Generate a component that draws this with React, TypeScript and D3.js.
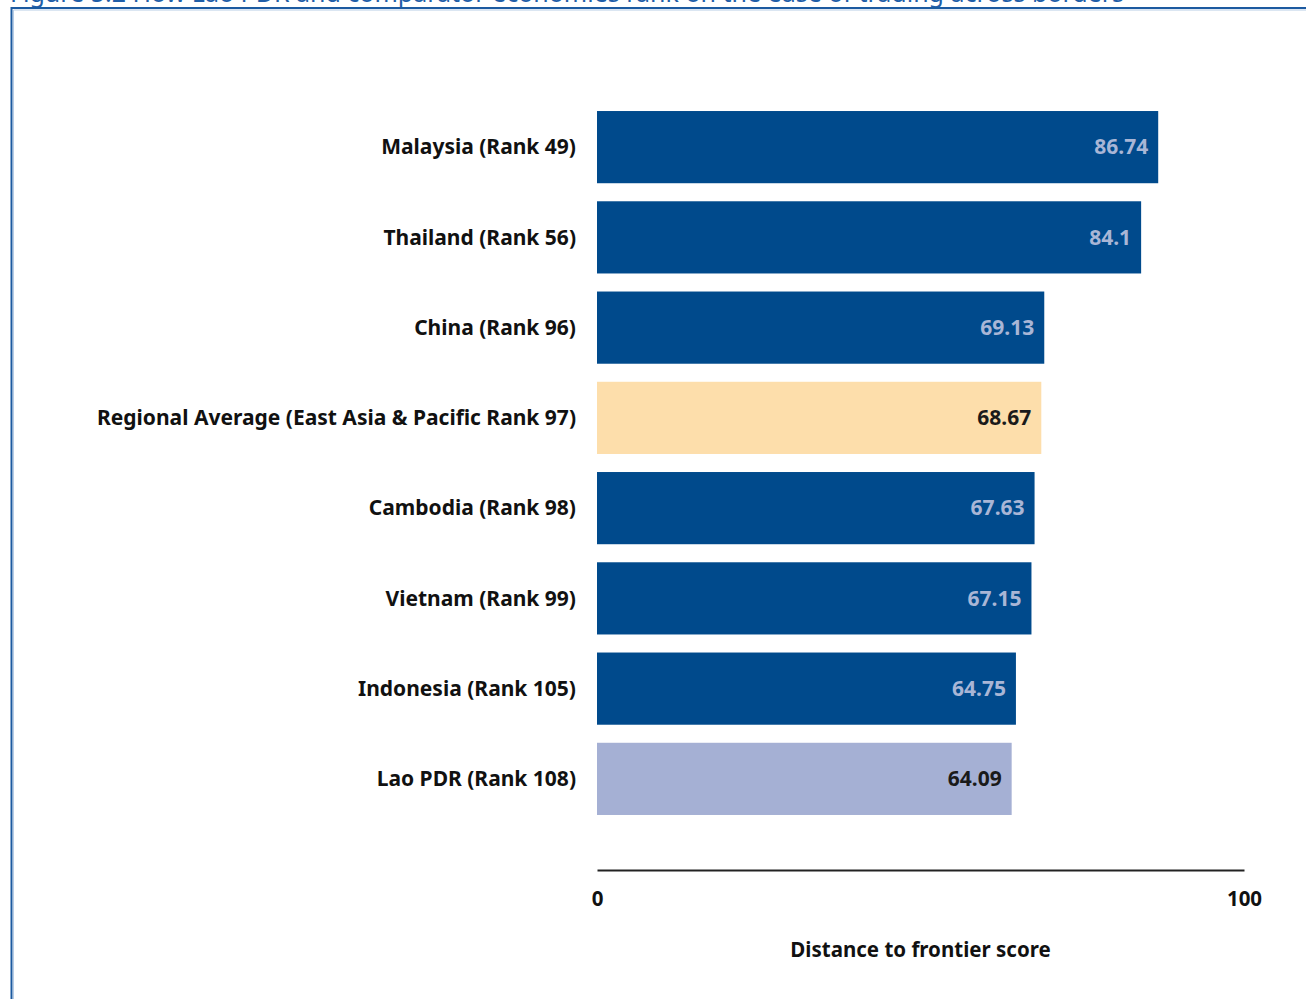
import { useEffect, useRef } from 'react';
import * as d3 from 'd3';

const categories = [
  'Malaysia (Rank 49)',
  'Thailand (Rank 56)',
  'China (Rank 96)',
  'Regional Average (East Asia & Pacific Rank 97)',
  'Cambodia (Rank 98)',
  'Vietnam (Rank 99)',
  'Indonesia (Rank 105)',
  'Lao PDR (Rank 108)',
];
const scores = [86.74, 84.1, 69.13, 68.67, 67.63, 67.15, 64.75, 64.09];
const scoreLabels = ['86.74', '84.1', '69.13', '68.67', '67.63', '67.15', '64.75', '64.09'];
const barKinds = ['country', 'country', 'country', 'region', 'country', 'country', 'country', 'lao'];
const tickValues = [0, 100];

const title = 'Figure 5.2 How Lao PDR and comparator economies rank on the ease of trading across borders';
const axisTitle = 'Distance to frontier score';

const FONT = '"Noto Sans", "Open Sans", sans-serif';

export default function App() {
  const ref = useRef<SVGSVGElement | null>(null);

  useEffect(() => {
    if (!ref.current) return;
    const svg = d3.select(ref.current);
    svg.selectAll('*').remove();

    const width = 1306;
    const height = 999;

    svg.append('rect').attr('width', width).attr('height', height).attr('fill', 'white');

    // caption, cut off by the top edge as in the source page
    svg.append('text')
      .attr('x', 10)
      .attr('y', 1.5)
      .attr('fill', '#1f5ea8')
      .attr('font-family', FONT)
      .attr('font-size', 25)
      .text(title);

    // frame
    svg.append('path')
      .attr('d', `M${width},8 H11.5 V${height}`)
      .attr('fill', 'none')
      .attr('stroke', '#1c5aa0')
      .attr('stroke-width', 2);
    svg.append('path')
      .attr('d', `M${width},10 H13.5 V${height}`)
      .attr('fill', 'none')
      .attr('stroke', '#b7cde6')
      .attr('stroke-width', 1);

    const x = d3.scaleLinear().domain([0, 100]).range([597, 1244]);
    const y = d3.scaleBand().domain(categories).range([111 - 9, 815 + 9]).paddingInner(0.2).paddingOuter(0.1);

    const fillFor = (k: string) => (k === 'region' ? '#fddeab' : k === 'lao' ? '#a5b0d4' : '#004a8c');
    const labelFor = (k: string) => (k === 'country' ? '#a9b6d6' : '#1a1a1a');

    const rows = categories.map((c, i) => ({ c, v: scores[i], t: scoreLabels[i], k: barKinds[i] }));

    svg.append('g').selectAll('rect').data(rows).join('rect')
      .attr('x', x(0))
      .attr('y', d => y(d.c)!)
      .attr('width', d => x(d.v) - x(0))
      .attr('height', y.bandwidth())
      .attr('fill', d => fillFor(d.k));

    svg.append('g').selectAll('text').data(rows).join('text')
      .attr('x', d => x(d.v) - 10)
      .attr('y', d => y(d.c)! + y.bandwidth() / 2)
      .attr('dy', '0.35em')
      .attr('text-anchor', 'end')
      .attr('font-family', FONT)
      .attr('font-size', 21)
      .attr('font-weight', 'bold')
      .attr('fill', d => labelFor(d.k))
      .text(d => d.t);

    // category labels
    svg.append('g').selectAll('text').data(rows).join('text')
      .attr('x', 576)
      .attr('y', d => y(d.c)! + y.bandwidth() / 2)
      .attr('dy', '0.35em')
      .attr('text-anchor', 'end')
      .attr('font-family', FONT)
      .attr('font-size', 21)
      .attr('font-weight', 'bold')
      .attr('fill', '#111')
      .text(d => d.c);

    // x axis
    const axis = svg.append('g')
      .attr('transform', 'translate(0,870)')
      .call(d3.axisBottom(x).tickValues(tickValues).tickSize(0).tickPadding(21).tickFormat(d3.format('d')));
    axis.select('.domain').attr('stroke', '#222').attr('stroke-width', 2);
    axis.selectAll('text')
      .attr('font-family', FONT)
      .attr('font-size', 20.5)
      .attr('font-weight', 'bold')
      .attr('fill', '#111');

    svg.append('text')
      .attr('x', (x(0) + x(100)) / 2)
      .attr('y', 957)
      .attr('text-anchor', 'middle')
      .attr('font-family', FONT)
      .attr('font-size', 20.5)
      .attr('font-weight', 'bold')
      .attr('fill', '#111')
      .text(axisTitle);
  }, []);

  return (
    <svg
      ref={ref}
      width={1306}
      height={999}
      style={{ position: 'absolute', left: 0, top: 0, display: 'block' }}
    />
  );
}
